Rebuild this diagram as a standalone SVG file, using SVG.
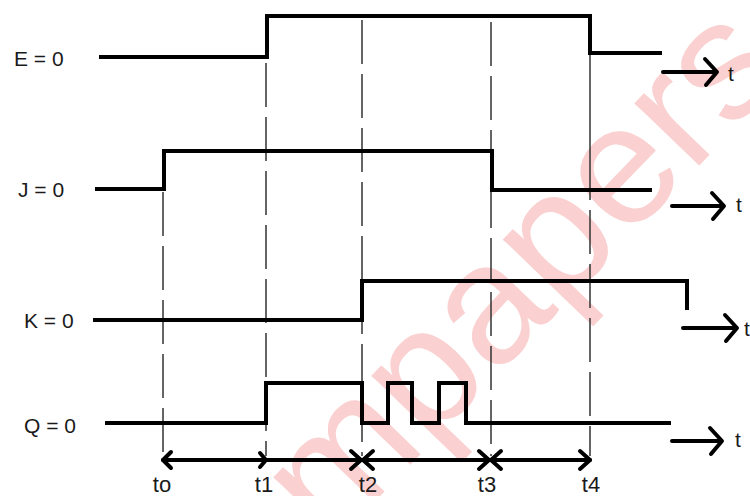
<svg xmlns="http://www.w3.org/2000/svg" width="750" height="496" viewBox="0 0 750 496">
<style>
.bg{fill:#ffffff}
.wm{font-family:"Liberation Sans",Arial,sans-serif;font-size:170px;fill:#fad0d0}
.sig{fill:none;stroke:#000;stroke-width:4;stroke-linejoin:miter;stroke-linecap:butt}
.guide{fill:none;stroke:#333;stroke-width:1.5;stroke-dasharray:44,10}
.solidguide{fill:none;stroke:#333;stroke-width:1.5}
.arr{fill:none;stroke:#000;stroke-width:4;stroke-linecap:round;stroke-linejoin:round}
.lbl{font-family:"Liberation Sans",Arial,sans-serif;font-size:21px;fill:#1a1a1a}
.tl{font-family:"Liberation Sans",Arial,sans-serif;font-size:22px;fill:#1a1a1a;text-anchor:middle}
</style>
<rect class="bg" x="0" y="0" width="750" height="496"/>
<text class="wm" transform="translate(330,548) rotate(-46)">mpapers</text>

<g id="guides">
  <line class="guide" x1="163" y1="192" x2="163" y2="456" stroke-dashoffset="0"/>
  <line class="guide" x1="266" y1="57" x2="266" y2="456" stroke-dashoffset="-6"/>
  <line class="guide" x1="362" y1="18" x2="362" y2="456" stroke-dashoffset="-2"/>
  <line class="guide" x1="491" y1="18" x2="491" y2="456" stroke-dashoffset="-4"/>
  <line class="solidguide" x1="590" y1="53" x2="590" y2="200"/>
  <line class="guide" x1="590" y1="210" x2="590" y2="456"/>
</g>

<g id="signal-E">
  <text class="lbl" x="14" y="66">E = 0</text>
  <path class="sig" d="M99,57 H267 V16 H590 V53 H662"/>
</g>
<g id="signal-J">
  <text class="lbl" x="18" y="197">J = 0</text>
  <path class="sig" d="M95,189 H164 V151 H492 V190 H652"/>
</g>
<g id="signal-K">
  <text class="lbl" x="24" y="328">K = 0</text>
  <path class="sig" d="M93,320 H362 V281 H687 V310"/>
</g>
<g id="signal-Q">
  <text class="lbl" x="24" y="433">Q = 0</text>
  <path class="sig" d="M105,423 H266 V383 H362 V423 H388 V383 H412 V423 H439 V383 H466 V423 H671"/>
</g>

<g id="connectors">
  <path class="arr" d="M663,72 H716 M705,59 L717,72 L706,85"/>
  <path class="arr" d="M672,206 H723 M712,193 L724,206 L713,219"/>
  <path class="arr" d="M683,328 H736 M725,315 L737,328 L726,341"/>
  <path class="arr" d="M672,441 H721 M710,428 L722,441 L711,454"/>
  <path class="arr" d="M163,460 H590"/>
  <path class="arr" d="M171,452 L163,460 L171,468"/>
  <path class="arr" d="M260,453 L266,460 L260,467"/>
  <path class="arr" d="M351,451 L361,460 L351,469 M373,451 L363,460 L373,469"/>
  <path class="arr" d="M479,451 L489,460 L479,469 M501,451 L491,460 L501,469"/>
  <path class="arr" d="M580,451 L590,460 L580,469"/>
</g>

<g id="axis-labels">
  <text class="lbl" x="728" y="81">t</text>
  <text class="lbl" x="736" y="212">t</text>
  <text class="lbl" x="744" y="336">t</text>
  <text class="lbl" x="735" y="447">t</text>
  <text class="tl" x="162" y="492">to</text>
  <text class="tl" x="264" y="492">t1</text>
  <text class="tl" x="368" y="492">t2</text>
  <text class="tl" x="487" y="492">t3</text>
  <text class="tl" x="591" y="492">t4</text>
</g>
</svg>
